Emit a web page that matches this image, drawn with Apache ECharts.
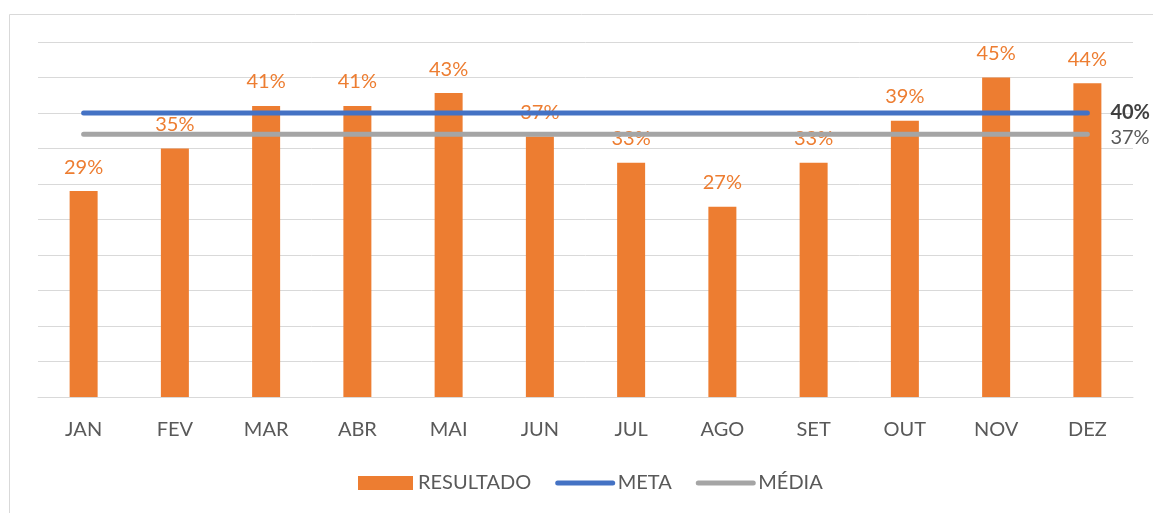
<!DOCTYPE html>
<html>
<head>
<meta charset="utf-8">
<script src="https://cdn.jsdelivr.net/npm/echarts@6/dist/echarts.min.js"></script>
<style>
  html, body { margin: 0; padding: 0; background: #fff; }
  #chart { width: 1153px; height: 513px; }
</style>
</head>
<body>
<div id="chart"></div>
<script>
const meses = ["JAN", "FEV", "MAR", "ABR", "MAI", "JUN", "JUL", "AGO", "SET", "OUT", "NOV", "DEZ"];
const resultado = [29, 35, 41, 41, 42.8, 36.7, 33, 26.8, 33, 38.9, 45, 44.2];
const meta = [40, 40, 40, 40, 40, 40, 40, 40, 40, 40, 40, 40];
const media = [37, 37, 37, 37, 37, 37, 37, 37, 37, 37, 37, 37];

const fonte = "Lato, 'Open Sans', sans-serif";
const chart = echarts.init(document.getElementById("chart"));

chart.setOption({
  animation: false,
  textStyle: { fontFamily: fonte },
  graphic: [{
    type: "rect",
    shape: { x: 9.5, y: 14.5, width: 1160, height: 520 },
    style: { fill: "none", stroke: "#d9d9d9", lineWidth: 1 },
    silent: true
  }],
  grid: { left: 38, right: 20, top: 42, bottom: 116 },
  legend: {
    bottom: 15,
    left: 353,
    itemGap: 24,
    itemWidth: 55,
    itemHeight: 14,
    textStyle: { color: "#595959", fontSize: 20, fontFamily: fonte },
    data: [
      { name: "RESULTADO", icon: "rect" },
      { name: "META", itemStyle: { opacity: 0 }, lineStyle: { width: 5, cap: "round" } },
      { name: "MÉDIA", itemStyle: { opacity: 0 }, lineStyle: { width: 5, cap: "round" } }
    ]
  },
  xAxis: {
    type: "category",
    data: meses,
    axisLine: { lineStyle: { color: "#d9d9d9", width: 1 } },
    axisTick: { show: false },
    axisLabel: { color: "#595959", fontSize: 20, margin: 23 }
  },
  yAxis: {
    type: "value",
    min: 0,
    max: 50,
    interval: 5,
    axisLine: { show: false },
    axisTick: { show: false },
    axisLabel: { show: false },
    splitLine: { lineStyle: { color: "#d9d9d9", width: 1 } }
  },
  series: [
    {
      name: "RESULTADO",
      type: "bar",
      data: resultado,
      barWidth: 28,
      itemStyle: { color: "#ED7D31" },
      label: {
        show: true,
        position: "top",
        distance: 14,
        color: "#ED7D31",
        fontSize: 20,
        formatter: p => Math.round(p.value) + "%"
      },
      z: 2
    },
    {
      name: "META",
      type: "line",
      data: meta,
      symbol: "none",
      lineStyle: { color: "#4472C4", width: 5, cap: "round" },
      itemStyle: { color: "#4472C4" },
      endLabel: {
        show: true,
        distance: 23,
        color: "#404040",
        fontWeight: "bold",
        fontSize: 20,
        formatter: p => p.value + "%"
      },
      z: 3
    },
    {
      name: "MÉDIA",
      type: "line",
      data: media,
      symbol: "none",
      lineStyle: { color: "#A5A5A5", width: 5, cap: "round" },
      itemStyle: { color: "#A5A5A5" },
      endLabel: {
        show: true,
        distance: 23,
        offset: [0, 3],
        color: "#595959",
        fontSize: 20,
        formatter: p => p.value + "%"
      },
      z: 3
    }
  ]
});
</script>
</body>
</html>
